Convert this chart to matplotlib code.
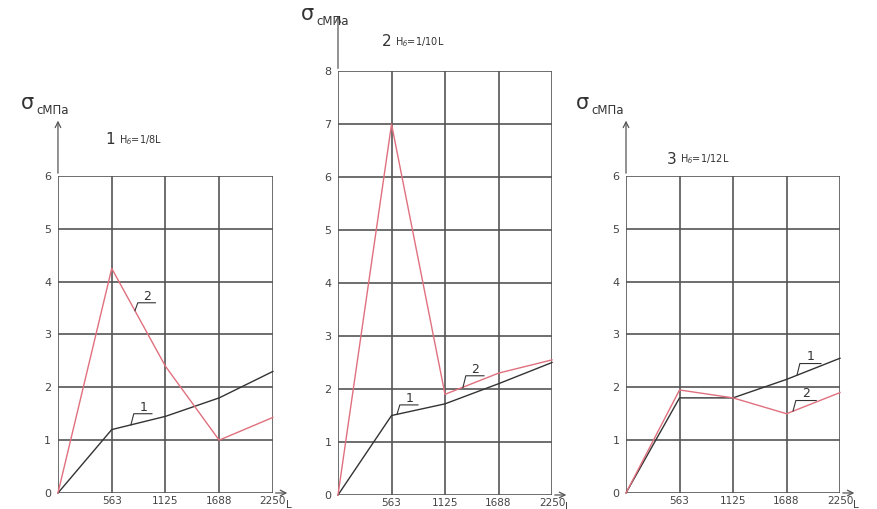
import matplotlib
matplotlib.use("Agg")
import matplotlib.pyplot as plt

# span positions along L (tick labels)
L = [0, 563, 1125, 1688, 2250]
L_LABELS = ["563", "1125", "1688", "2250"]

# panel 1: H6 = 1/8 L
p1_curve1 = [0, 1.2, 1.45, 1.8, 2.3]
p1_curve2 = [0, 4.25, 2.4, 1.0, 1.43]
# panel 2: H6 = 1/10 L
p2_curve1 = [0, 1.5, 1.72, 2.1, 2.5]
p2_curve2 = [0, 7.0, 1.9, 2.3, 2.55]
# panel 3: H6 = 1/12 L
p3_curve1 = [0, 1.8, 1.8, 2.15, 2.55]
p3_curve2 = [0, 1.95, 1.8, 1.5, 1.9]

GRID = "#555555"
RED = "#e0707e"
BLACK = "#333333"

fig = plt.figure(figsize=(8.77, 5.10), dpi=100)


def panel(rect, ymax, c1, c2, num, hb, sig_xy, title_xy, leaders):
    ax = fig.add_axes(rect)
    ax.set_xlim(0, 2250)
    ax.set_ylim(0, ymax)
    for s in ax.spines.values():
        s.set_visible(False)
    ax.set_xticks([])
    ax.set_yticks([])

    # grid / box
    for v in range(ymax + 1):
        ax.plot([0, 2250], [v, v], color=GRID, lw=1.2, zorder=1)
    for x in L:
        ax.plot([x, x], [0, ymax], color=GRID, lw=1.2, zorder=1)

    # axes arrows
    ax.annotate("", xy=(0, ymax + 1.1), xytext=(0, ymax),
                arrowprops=dict(arrowstyle="->", color=GRID, lw=0.9),
                annotation_clip=False)
    ax.annotate("", xy=(2430, 0), xytext=(2250, 0),
                arrowprops=dict(arrowstyle="->", color=GRID, lw=0.9),
                annotation_clip=False)
    ax.text(2420, -0.2, "L", fontsize=7.5, color="#444444", ha="center", va="center")

    # tick labels
    for v in range(ymax + 1):
        ax.text(-70, v, str(v), fontsize=8, color="#444444", ha="right", va="center")
    for x, lab in zip(L[1:], L_LABELS):
        ax.text(x, -0.03, lab, fontsize=7.5, color="#444444", ha="center", va="top")

    ax.plot(L, c1, color=BLACK, lw=1.0, zorder=3, clip_on=False)
    ax.plot(L, c2, color=RED, lw=1.0, zorder=3, clip_on=False)

    # sigma label
    sx, sy = sig_xy
    ax.text(sx, sy, "σ", fontsize=15, color="#333333", ha="left", va="center")
    ax.text(sx + 165, sy - 0.15, "сМПа", fontsize=8.5, color="#333333", ha="left", va="center")

    # title
    tx, ty = title_xy
    ax.text(tx, ty, num, fontsize=11, color="#333333", ha="left", va="center")
    ax.text(tx + 140, ty, "H$_{б}$=" + hb, fontsize=7, color="#333333", ha="left", va="center")

    # curve leaders
    for lab, x0, y0, y1, x1 in leaders:
        ax.plot([x0, x0 + 30, x1], [y0, y1, y1], color=BLACK, lw=0.8, zorder=4)
        ax.text((x0 + x1) / 2 + 20, y1 + 0.02, lab, fontsize=9, color="#333333",
                ha="center", va="bottom")
    return ax


panel([0.0661, 0.0314, 0.245, 0.6216], 6, p1_curve1, p1_curve2, "1", "1/8L",
      (-390, 7.4), (500, 6.7),
      [("2", 806, 3.45, 3.6, 1020), ("1", 764, 1.29, 1.5, 984)])
panel([0.3854, 0.0275, 0.244, 0.831], 8, p2_curve1, p2_curve2, "2", "1/10L",
      (-390, 9.1), (460, 8.57),
      [("1", 620, 1.52, 1.7, 841), ("2", 1314, 2.03, 2.25, 1535)])
panel([0.7138, 0.0314, 0.244, 0.6216], 6, p3_curve1, p3_curve2, "3", "1/12L",
      (-530, 7.4), (430, 6.33),
      [("1", 1798, 2.23, 2.45, 2050), ("2", 1756, 1.55, 1.75, 2000)])

fig.savefig("out.png", dpi=100)
